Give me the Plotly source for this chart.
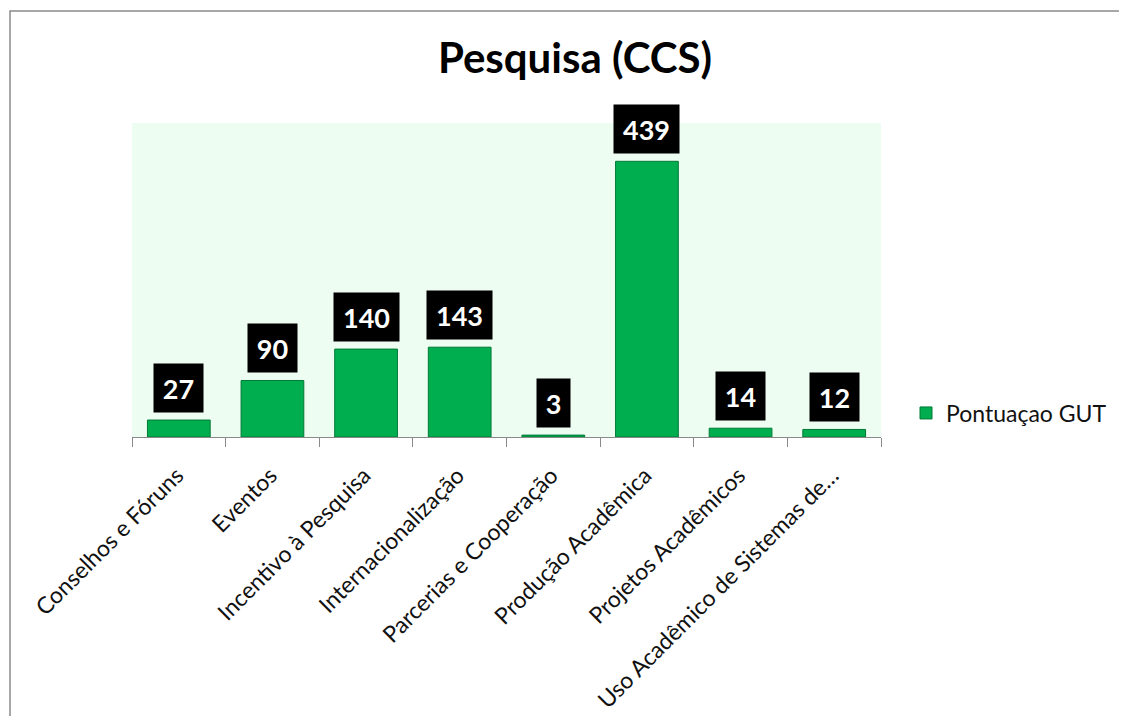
import plotly.graph_objects as go

categories = [
    "Conselhos e Fóruns",
    "Eventos",
    "Incentivo à Pesquisa",
    "Internacionalização",
    "Parcerias e Cooperação",
    "Produção Acadêmica",
    "Projetos Acadêmicos",
    "Uso Acadêmico de Sistemas de…",
]
scores = [27, 90, 140, 143, 3, 439, 14, 12]
series_name = "Pontuaçao GUT"
title_text = "Pesquisa (CCS)"

FONT = "Lato"
OFF = 8  # page body margin
W, H = 1111, 708
L, R, T, B = 124, 238, 115, 279
pw, ph = W - L - R, H - T - B


def px_x(p):
    # page pixel -> paper x
    return (p - OFF - L) / pw


def px_y(p):
    return (H - B - (p - OFF)) / ph


fig = go.Figure()
fig.add_trace(go.Bar(
    x=categories,
    y=scores,
    name=series_name,
    marker=dict(color="#00AE4F", line=dict(color="#007A36", width=1)),
    showlegend=True,
))

# black data label boxes
for c, v in zip(categories, scores):
    s = str(v)
    fig.add_annotation(
        x=c, y=v, text=f"<b>{s}</b>", showarrow=False,
        yanchor="bottom", yshift=7,
        font=dict(family=FONT, size=27, color="white"),
        bgcolor="black", borderpad=7, width=16 * len(s) + 3, height=34,
    )

fig.update_layout(
    width=W, height=H,
    margin=dict(l=L, r=R, t=T, b=B, autoexpand=False),
    paper_bgcolor="white",
    plot_bgcolor="#EEFDF2",
    font=dict(family=FONT, color="#111111"),
    title=dict(text=f"<b>{title_text}</b>", x=px_x(575), xref="paper", xanchor="center",
               y=1 - (58 - OFF) / H, yanchor="middle",
               font=dict(family=FONT, size=42, color="black")),
    bargap=0.33,
    showlegend=True,
    legend=dict(x=px_x(906), y=px_y(413), xanchor="left", yanchor="middle",
                font=dict(family=FONT, size=23, color="#111111"),
                bgcolor="rgba(0,0,0,0)"),
    xaxis=dict(
        type="category", tickangle=-45, tickson="boundaries",
        ticks="outside", ticklen=9, tickcolor="#898989",
        showline=True, linecolor="#898989", linewidth=1,
        ticklabelstandoff=15, ticklabelshift=-2,
        showgrid=False, tickfont=dict(family=FONT, size=23, color="#111111"),
    ),
    yaxis=dict(range=[0, 500], visible=False, showgrid=False, zeroline=False),
    shapes=[dict(
        type="rect", xref="paper", yref="paper",
        x0=px_x(10), x1=px_x(1300), y0=px_y(900), y1=px_y(11),
        line=dict(color="#8A8A8A", width=1.5), layer="below",
    )],
)

fig.write_html("out.html")
